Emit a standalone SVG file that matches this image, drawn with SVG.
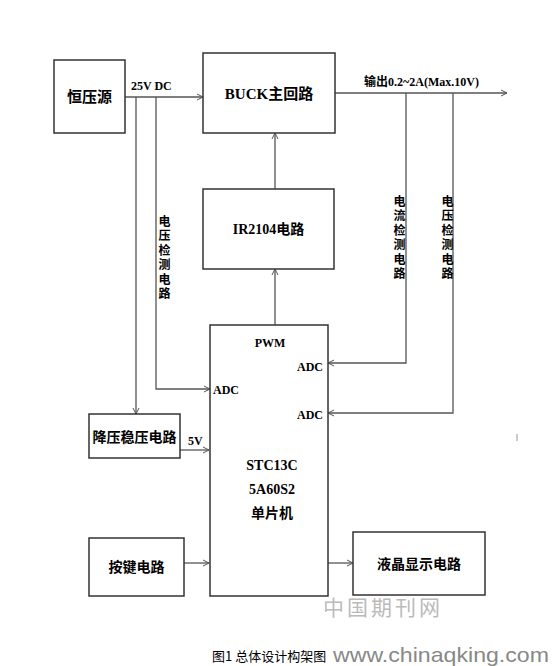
<svg xmlns="http://www.w3.org/2000/svg" width="554" height="666" viewBox="0 0 554 666">
<defs>
<marker id="arr" markerWidth="8" markerHeight="8" refX="7" refY="4" orient="auto" markerUnits="userSpaceOnUse">
<path d="M1,1 L7,4 L1,7" fill="none" stroke="#555" stroke-width="1"/>
</marker>
<style>
.box{fill:#fff;stroke:#333;stroke-width:1.5}
.ln{fill:none;stroke:#555;stroke-width:1.3}
.t{font-family:"Liberation Serif","Noto Sans CJK SC",serif;fill:#000;font-weight:bold}
.big{font-size:15px}
.sm{font-size:12px}
.vt{font-size:12px;writing-mode:tb;letter-spacing:2.5px}
</style>
</defs>
<rect width="554" height="666" fill="#fff"/>
<g id="connectors">
<path class="ln" d="M125,97 H203" marker-end="url(#arr)"/>
<path class="ln" d="M136,97 V414" marker-end="url(#arr)"/>
<path class="ln" d="M156,97 V389 H210" marker-end="url(#arr)"/>
<path class="ln" d="M275,189 V133" marker-end="url(#arr)"/>
<path class="ln" d="M275,325 V269" marker-end="url(#arr)"/>
<path class="ln" d="M335,93 H507" marker-end="url(#arr)"/>
<path class="ln" d="M406,93 V363 H328" marker-end="url(#arr)"/>
<path class="ln" d="M453,93 V413 H328" marker-end="url(#arr)"/>
<path class="ln" d="M180,450 H209" marker-end="url(#arr)"/>
<path class="ln" d="M184,563 H209" marker-end="url(#arr)"/>
<path class="ln" d="M328,563 H353" marker-end="url(#arr)"/>
<text class="t sm" x="131" y="90">25V DC</text>
<text class="t sm" x="364" y="86">输出0.2~2A(Max.10V)</text>
<text class="t sm" x="188" y="445">5V</text>
<text class="t vt" x="163" y="215">电压检测电路</text>
<text class="t vt" x="398" y="195">电流检测电路</text>
<text class="t vt" x="446" y="195">电压检测电路</text>
</g>
<g id="hengyayuan">
<rect class="box" x="54" y="60" width="71" height="73"/>
<text class="t big" x="89.5" y="102" text-anchor="middle">恒压源</text>
</g>
<g id="buck">
<rect class="box" x="203" y="53" width="132" height="80"/>
<text class="t big" x="269" y="99" text-anchor="middle">BUCK主回路</text>
</g>
<g id="ir2104">
<rect class="box" x="203" y="189" width="131" height="80"/>
<text class="t sm" x="268.5" y="234" text-anchor="middle" style="font-size:14px">IR2104电路</text>
</g>
<g id="mcu">
<rect class="box" x="210" y="325" width="118" height="271"/>
<text class="t sm" x="270" y="347" text-anchor="middle">PWM</text>
<text class="t sm" x="213" y="394">ADC</text>
<text class="t sm" x="323" y="371" text-anchor="end">ADC</text>
<text class="t sm" x="323" y="419" text-anchor="end">ADC</text>
<text class="t" x="272" y="470" text-anchor="middle" style="font-size:14px">STC13C</text>
<text class="t" x="272" y="494" text-anchor="middle" style="font-size:14px">5A60S2</text>
<text class="t" x="272" y="518" text-anchor="middle" style="font-size:14px">单片机</text>
</g>
<g id="buckreg">
<rect class="box" x="89" y="414" width="91" height="44"/>
<text class="t" x="134.5" y="442" text-anchor="middle" style="font-size:14px">降压稳压电路</text>
</g>
<g id="keys">
<rect class="box" x="89" y="538" width="95" height="58"/>
<text class="t" x="136.5" y="572" text-anchor="middle" style="font-size:14px">按键电路</text>
</g>
<g id="lcd">
<rect class="box" x="353" y="532" width="132" height="63"/>
<text class="t" x="419" y="569" text-anchor="middle" style="font-size:14px">液晶显示电路</text>
</g>
<line x1="517" y1="434" x2="517" y2="441" stroke="#999" stroke-width="1"/>
<text x="323" y="615" style="font-family:'Noto Sans CJK SC',sans-serif;font-size:21px;fill:#bbb;letter-spacing:3px">中国期刊网</text>
<text x="212" y="661" style="font-family:'Noto Sans CJK SC',sans-serif;font-size:13px;fill:#000">图1 总体设计构架图</text>
<text x="333" y="662" textLength="216" lengthAdjust="spacingAndGlyphs" style="font-family:'Liberation Sans',sans-serif;font-size:21px;fill:#888">www.chinaqking.com</text>
</svg>
